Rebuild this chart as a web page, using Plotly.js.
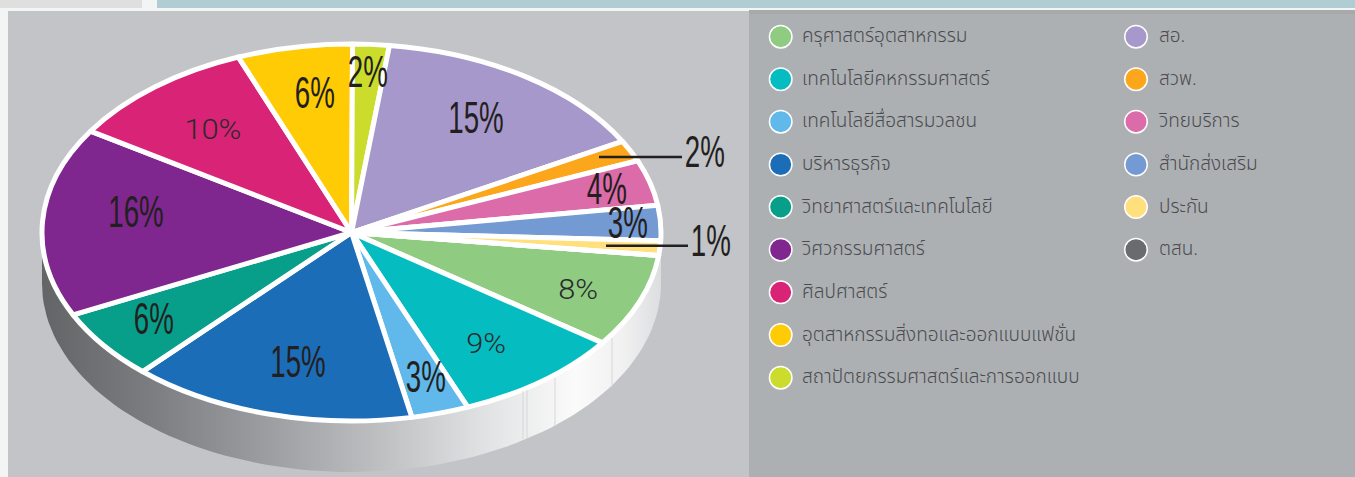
<!DOCTYPE html>
<html><head><meta charset="utf-8">
<script src="https://cdn.plot.ly/plotly-3.0.1.min.js"></script>
<style>html,body{margin:0;padding:0;background:#fff;overflow:hidden}#c{width:1355px;height:477px}</style>
</head><body><div id="c"></div>
<script>
const categories=['ครุศาสตร์อุตสาหกรรม','เทคโนโลยีคหกรรมศาสตร์','เทคโนโลยีสื่อสารมวลชน','บริหารธุรกิจ','วิทยาศาสตร์และเทคโนโลยี','วิศวกรรมศาสตร์','ศิลปศาสตร์','อุตสาหกรรมสิ่งทอและออกแบบแฟชั่น','สถาปัตยกรรมศาสตร์และการออกแบบ','สอ.','สวพ.','วิทยบริการ','สำนักส่งเสริม','ประกัน','ตสน.'];
const shares=[8,8.9,3,14.9,6,16.2,10,6,1.9,15,1.8,3.9,3,1.25,0];
const colours=['#8fcc82','#05bdc1','#60b9ea','#1c6db8','#079f89','#7f278f','#d92376','#ffcb05','#cbdc2c','#a698ca','#fca61b','#dc6ba9','#739ad2','#ffe07c','#6a6b6d'];
const labelX=[578,486,426,298,154,136,213,315,368,476,705,607,628,711];
const labelY=[289,343,376,361,318,211,129,92,71,117,151,188,222,240];
const lightLabels=[0,1,6];
const legendColX=[780.7,1136];const legendTextX=[802,1159];
const legendRows=[36.7,79.2,121.7,164.5,206.9,249.7,292.3,335,377.7];
const cx=351.5,cy=232.5,rx=309.5,ry=188.5,depth=51;

const wallX=[],wallY=[];
for(let a=0;a<=180;a+=2){wallX.push(cx+rx*Math.cos(a*Math.PI/180));wallY.push(cy+ry*Math.sin(a*Math.PI/180));}
for(let a=180;a>=0;a-=2){wallX.push(cx+rx*Math.cos(a*Math.PI/180));wallY.push(cy+depth+ry*Math.sin(a*Math.PI/180));}

const legX=[],legY=[],legTX=[],legTY=[];
categories.forEach((c,i)=>{const col=i<9?0:1,row=i<9?i:i-9;legX.push(legendColX[col]);legTX.push(legendTextX[col]);legY.push(legendRows[row]);legTY.push(legendRows[row]+1);});

const traces=[
{type:'pie',labels:categories,values:shares,sort:false,direction:'clockwise',rotation:97,textinfo:'none',hoverinfo:'label+percent',showlegend:false,
 marker:{colors:colours,line:{color:'#ffffff',width:5}},domain:{x:[0,1],y:[0,1]}},
{type:'scatter',mode:'lines',x:wallX,y:wallY,fill:'toself',line:{width:0},hoverinfo:'skip',showlegend:false,
 fillgradient:{type:'horizontal',start:42,stop:662,colorscale:[[0,'#636466'],[0.17,'#7b7c7f'],[0.35,'#9a9b9e'],[0.55,'#bfc0c2'],[0.72,'#e2e3e4'],[0.86,'#fbfbfb'],[0.94,'#f0f0f1'],[1,'#dcdddf']]}},
{type:'scatter',mode:'markers',x:legX,y:legY,hoverinfo:'skip',showlegend:false,marker:{size:22.5,color:colours,line:{color:'#ffffff',width:1.5}}},
{type:'scatter',mode:'text',x:legTX,y:legTY,text:categories,textposition:'middle right',hoverinfo:'skip',showlegend:false,
 textfont:{family:'"Noto Sans Thai","Noto Sans","DejaVu Sans",sans-serif',size:19,weight:300,color:'#4a4c4f'}}
];

const shapes=[
 {type:'rect',layer:'below',x0:0,x1:1355,y0:0,y1:477,fillcolor:'#f3f4f4',line:{width:0}},
 {type:'rect',layer:'below',x0:0,x1:142,y0:0,y1:8,fillcolor:'#dfdfe0',line:{width:0}},
 {type:'rect',layer:'below',x0:157,x1:1355,y0:0,y1:8,fillcolor:'#b0cdd3',line:{width:0}},
 {type:'rect',layer:'below',x0:8,x1:749,y0:11,y1:477,fillcolor:'#c3c4c8',line:{width:0}},
 {type:'rect',layer:'below',x0:749,x1:1355,y0:10,y1:477,fillcolor:'#adb0b3',line:{width:0}},
 {type:'rect',layer:'below',x0:749,x1:1355,y0:10,y1:14,fillcolor:'#a8a9ab',line:{width:0}},
 {type:'line',layer:'above',x0:599,x1:682,y0:157,y1:157,line:{color:'#231f20',width:2.5}},
 {type:'line',layer:'above',x0:606,x1:688,y0:245.7,y1:245.7,line:{color:'#231f20',width:2.5}}
];
[[523,391,439],[527,390,438],[555,378,426],[612,338,387]].forEach(s=>shapes.push({type:'line',layer:'above',x0:s[0],x1:s[0],y0:s[1],y1:s[2],line:{color:'#d6d7d8',width:1}}));

const annotations=[];
for(let i=0;i<labelX.length;i++){
 const light=lightLabels.includes(i);
 annotations.push({x:labelX[i],y:labelY[i],xref:'x',yref:'y',showarrow:false,text:Math.round(shares[i])+'%',xanchor:'center',yanchor:'middle',
  font:light?{family:'Roboto',size:28,weight:300,color:'#2a2a2c'}:{family:'"Liberation Sans"',size:44,color:'#231f20'}});
}

Plotly.newPlot('c',traces,{width:1355,height:477,margin:{l:0,r:0,t:0,b:0},paper_bgcolor:'#ffffff',plot_bgcolor:'rgba(0,0,0,0)',showlegend:false,
 xaxis:{range:[0,1355],visible:false,fixedrange:true},yaxis:{range:[477,0],visible:false,fixedrange:true},shapes,annotations},{displayModeBar:false,staticPlot:true}).then(gd=>{
  const p=gd.calcdata.find(c=>c[0].trace.type==='pie')[0];
  const layer=gd.querySelector('.pielayer');
  layer.setAttribute('transform',`translate(${cx},${cy}) scale(${rx/p.r},${ry/p.r}) translate(${-p.cx},${-p.cy})`);
  layer.querySelectorAll('path').forEach(e=>e.style.vectorEffect='non-scaling-stroke');
  gd.querySelectorAll('.annotation-text').forEach(t=>{
    const narrow=t.style.fontFamily.includes('Liberation');
    const k=narrow?0.63:1.1;
    const b=t.getBBox(),c=b.x+b.width/2;
    t.setAttribute('transform',`translate(${c},0) scale(${k},1) translate(${-c},0)`);
  });
 });
</script></body></html>
